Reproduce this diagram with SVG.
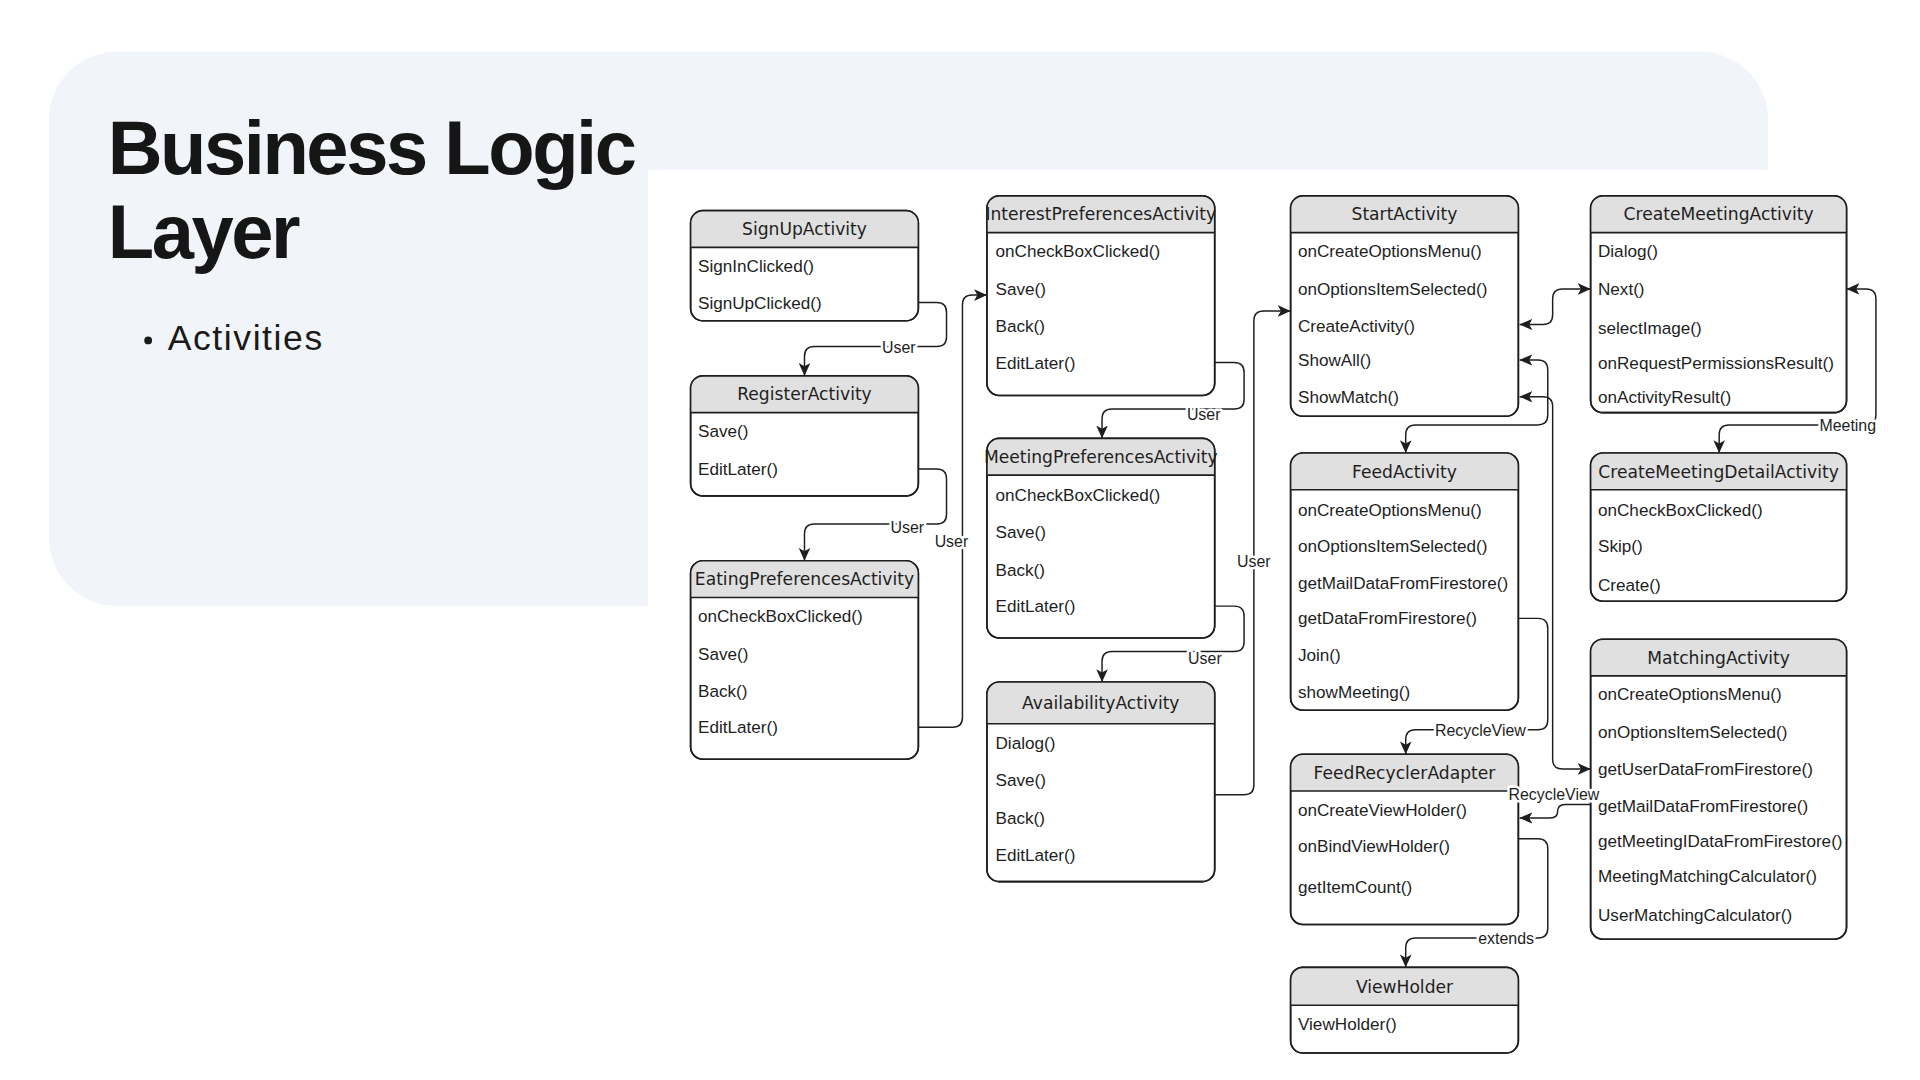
<svg xmlns="http://www.w3.org/2000/svg" width="1920" height="1080" viewBox="0 0 1920 1080">
<defs>
<style>
.bg{fill:#ffffff}
.panel{fill:#F1F5F9}
.h1{font-family:"Liberation Sans",Arial,sans-serif;font-weight:700;font-size:62px;letter-spacing:-2px;fill:#161616}
.bul{font-family:"Liberation Sans",Arial,sans-serif;font-size:29px;letter-spacing:1.3px;fill:#1a1a1a}
.box{fill:#ffffff;stroke:#1e1e1e;stroke-width:1.3}
.frame{fill:none;stroke:#1e1e1e;stroke-width:1.3}
.hdr{fill:#E0E0E0;stroke:none}
.div{stroke:#1e1e1e;stroke-width:1.3}
.t{font-family:"DejaVu Sans",Verdana,sans-serif;font-size:14px;fill:#1e1e1e;text-anchor:middle}
.m{font-family:"Liberation Sans",Arial,sans-serif;font-size:14px;fill:#1e1e1e}
.c{fill:none;stroke:#1e1e1e;stroke-width:1.2}
.lbl{font-family:"Liberation Sans",Arial,sans-serif;font-size:13px;fill:#1e1e1e;text-anchor:middle;stroke:#ffffff;stroke-width:4px;stroke-linejoin:round;paint-order:stroke}
</style>
<marker id="arr" viewBox="0 0 10 10" refX="10" refY="5" markerWidth="10.5" markerHeight="10.5" orient="auto-start-reverse" markerUnits="userSpaceOnUse">
<path d="M0,0.5 L10,5 L0,9.5 L2.5,5 Z" fill="#1e1e1e"/>
</marker>
</defs>
<rect class="bg" x="0" y="0" width="1920" height="1080"/>
<g transform="scale(1.2244898)">
<g id="background">
<rect class="panel" x="40" y="42" width="1404" height="453" rx="56" ry="56"/>
<rect class="bg" x="529" y="139" width="1039" height="743"/>
</g>
<g id="title">
<text class="h1" x="88" y="142">Business Logic</text>
<text class="h1" x="88" y="211">Layer</text>
<circle cx="121" cy="278" r="3.2" fill="#1a1a1a"/>
<text class="bul" x="137" y="286">Activities</text>
</g>

<g id="SignUpActivity">
<rect class="box" x="564" y="172" width="186" height="90" rx="10"/>
<path class="hdr" d="M564,202 V182 A10,10 0 0 1 574,172 H740 A10,10 0 0 1 750,182 V202 Z"/>
<line class="div" x1="564" y1="202" x2="750" y2="202"/>
<rect class="frame" x="564" y="172" width="186" height="90" rx="10"/>
<text class="t" x="657" y="192">SignUpActivity</text>
<text class="m" x="570" y="222">SignInClicked()</text>
<text class="m" x="570" y="252">SignUpClicked()</text>
</g>

<g id="RegisterActivity">
<rect class="box" x="564" y="307" width="186" height="98" rx="10"/>
<path class="hdr" d="M564,337 V317 A10,10 0 0 1 574,307 H740 A10,10 0 0 1 750,317 V337 Z"/>
<line class="div" x1="564" y1="337" x2="750" y2="337"/>
<rect class="frame" x="564" y="307" width="186" height="98" rx="10"/>
<text class="t" x="657" y="327">RegisterActivity</text>
<text class="m" x="570" y="357">Save()</text>
<text class="m" x="570" y="388">EditLater()</text>
</g>

<g id="EatingPreferencesActivity">
<rect class="box" x="564" y="458" width="186" height="162" rx="10"/>
<path class="hdr" d="M564,488 V468 A10,10 0 0 1 574,458 H740 A10,10 0 0 1 750,468 V488 Z"/>
<line class="div" x1="564" y1="488" x2="750" y2="488"/>
<rect class="frame" x="564" y="458" width="186" height="162" rx="10"/>
<text class="t" x="657" y="478">EatingPreferencesActivity</text>
<text class="m" x="570" y="508">onCheckBoxClicked()</text>
<text class="m" x="570" y="539">Save()</text>
<text class="m" x="570" y="569">Back()</text>
<text class="m" x="570" y="599">EditLater()</text>
</g>

<g id="InterestPreferencesActivity">
<rect class="box" x="806" y="160" width="186" height="163" rx="10"/>
<path class="hdr" d="M806,190 V170 A10,10 0 0 1 816,160 H982 A10,10 0 0 1 992,170 V190 Z"/>
<line class="div" x1="806" y1="190" x2="992" y2="190"/>
<rect class="frame" x="806" y="160" width="186" height="163" rx="10"/>
<text class="t" x="899" y="180">InterestPreferencesActivity</text>
<text class="m" x="813" y="210">onCheckBoxClicked()</text>
<text class="m" x="813" y="241">Save()</text>
<text class="m" x="813" y="271">Back()</text>
<text class="m" x="813" y="301">EditLater()</text>
</g>

<g id="MeetingPreferencesActivity">
<rect class="box" x="806" y="358" width="186" height="163" rx="10"/>
<path class="hdr" d="M806,388 V368 A10,10 0 0 1 816,358 H982 A10,10 0 0 1 992,368 V388 Z"/>
<line class="div" x1="806" y1="388" x2="992" y2="388"/>
<rect class="frame" x="806" y="358" width="186" height="163" rx="10"/>
<text class="t" x="899" y="378">MeetingPreferencesActivity</text>
<text class="m" x="813" y="409">onCheckBoxClicked()</text>
<text class="m" x="813" y="439">Save()</text>
<text class="m" x="813" y="470">Back()</text>
<text class="m" x="813" y="500">EditLater()</text>
</g>

<g id="AvailabilityActivity">
<rect class="box" x="806" y="557" width="186" height="163" rx="10"/>
<path class="hdr" d="M806,591 V567 A10,10 0 0 1 816,557 H982 A10,10 0 0 1 992,567 V591 Z"/>
<line class="div" x1="806" y1="591" x2="992" y2="591"/>
<rect class="frame" x="806" y="557" width="186" height="163" rx="10"/>
<text class="t" x="899" y="579">AvailabilityActivity</text>
<text class="m" x="813" y="612">Dialog()</text>
<text class="m" x="813" y="642">Save()</text>
<text class="m" x="813" y="673">Back()</text>
<text class="m" x="813" y="703">EditLater()</text>
</g>

<g id="StartActivity">
<rect class="box" x="1054" y="160" width="186" height="180" rx="10"/>
<path class="hdr" d="M1054,190 V170 A10,10 0 0 1 1064,160 H1230 A10,10 0 0 1 1240,170 V190 Z"/>
<line class="div" x1="1054" y1="190" x2="1240" y2="190"/>
<rect class="frame" x="1054" y="160" width="186" height="180" rx="10"/>
<text class="t" x="1147" y="180">StartActivity</text>
<text class="m" x="1060" y="210">onCreateOptionsMenu()</text>
<text class="m" x="1060" y="241">onOptionsItemSelected()</text>
<text class="m" x="1060" y="271">CreateActivity()</text>
<text class="m" x="1060" y="299">ShowAll()</text>
<text class="m" x="1060" y="329">ShowMatch()</text>
</g>

<g id="FeedActivity">
<rect class="box" x="1054" y="370" width="186" height="210" rx="10"/>
<path class="hdr" d="M1054,400 V380 A10,10 0 0 1 1064,370 H1230 A10,10 0 0 1 1240,380 V400 Z"/>
<line class="div" x1="1054" y1="400" x2="1240" y2="400"/>
<rect class="frame" x="1054" y="370" width="186" height="210" rx="10"/>
<text class="t" x="1147" y="390">FeedActivity</text>
<text class="m" x="1060" y="421">onCreateOptionsMenu()</text>
<text class="m" x="1060" y="451">onOptionsItemSelected()</text>
<text class="m" x="1060" y="481">getMailDataFromFirestore()</text>
<text class="m" x="1060" y="510">getDataFromFirestore()</text>
<text class="m" x="1060" y="540">Join()</text>
<text class="m" x="1060" y="570">showMeeting()</text>
</g>

<g id="FeedRecyclerAdapter">
<rect class="box" x="1054" y="616" width="186" height="139" rx="10"/>
<path class="hdr" d="M1054,646 V626 A10,10 0 0 1 1064,616 H1230 A10,10 0 0 1 1240,626 V646 Z"/>
<line class="div" x1="1054" y1="646" x2="1240" y2="646"/>
<rect class="frame" x="1054" y="616" width="186" height="139" rx="10"/>
<text class="t" x="1147" y="636">FeedRecyclerAdapter</text>
<text class="m" x="1060" y="666">onCreateViewHolder()</text>
<text class="m" x="1060" y="696">onBindViewHolder()</text>
<text class="m" x="1060" y="729">getItemCount()</text>
</g>

<g id="ViewHolder">
<rect class="box" x="1054" y="790" width="186" height="70" rx="10"/>
<path class="hdr" d="M1054,821 V800 A10,10 0 0 1 1064,790 H1230 A10,10 0 0 1 1240,800 V821 Z"/>
<line class="div" x1="1054" y1="821" x2="1240" y2="821"/>
<rect class="frame" x="1054" y="790" width="186" height="70" rx="10"/>
<text class="t" x="1147" y="811">ViewHolder</text>
<text class="m" x="1060" y="841">ViewHolder()</text>
</g>

<g id="CreateMeetingActivity">
<rect class="box" x="1299" y="160" width="209" height="177" rx="10"/>
<path class="hdr" d="M1299,190 V170 A10,10 0 0 1 1309,160 H1498 A10,10 0 0 1 1508,170 V190 Z"/>
<line class="div" x1="1299" y1="190" x2="1508" y2="190"/>
<rect class="frame" x="1299" y="160" width="209" height="177" rx="10"/>
<text class="t" x="1403.5" y="180">CreateMeetingActivity</text>
<text class="m" x="1305" y="210">Dialog()</text>
<text class="m" x="1305" y="241">Next()</text>
<text class="m" x="1305" y="273">selectImage()</text>
<text class="m" x="1305" y="301">onRequestPermissionsResult()</text>
<text class="m" x="1305" y="329">onActivityResult()</text>
</g>

<g id="CreateMeetingDetailActivity">
<rect class="box" x="1299" y="370" width="209" height="121" rx="10"/>
<path class="hdr" d="M1299,400 V380 A10,10 0 0 1 1309,370 H1498 A10,10 0 0 1 1508,380 V400 Z"/>
<line class="div" x1="1299" y1="400" x2="1508" y2="400"/>
<rect class="frame" x="1299" y="370" width="209" height="121" rx="10"/>
<text class="t" x="1403.5" y="390">CreateMeetingDetailActivity</text>
<text class="m" x="1305" y="421">onCheckBoxClicked()</text>
<text class="m" x="1305" y="451">Skip()</text>
<text class="m" x="1305" y="483">Create()</text>
</g>

<g id="MatchingActivity">
<rect class="box" x="1299" y="522" width="209" height="245" rx="10"/>
<path class="hdr" d="M1299,552 V532 A10,10 0 0 1 1309,522 H1498 A10,10 0 0 1 1508,532 V552 Z"/>
<line class="div" x1="1299" y1="552" x2="1508" y2="552"/>
<rect class="frame" x="1299" y="522" width="209" height="245" rx="10"/>
<text class="t" x="1403.5" y="542">MatchingActivity</text>
<text class="m" x="1305" y="572">onCreateOptionsMenu()</text>
<text class="m" x="1305" y="603">onOptionsItemSelected()</text>
<text class="m" x="1305" y="633">getUserDataFromFirestore()</text>
<text class="m" x="1305" y="663">getMailDataFromFirestore()</text>
<text class="m" x="1305" y="692">getMeetingIDataFromFirestore()</text>
<text class="m" x="1305" y="720">MeetingMatchingCalculator()</text>
<text class="m" x="1305" y="752">UserMatchingCalculator()</text>
</g>

<g id="connectors">
<path class="c" marker-end="url(#arr)" d="M750,247 H765 Q773,247 773,255 V275 Q773,283 765,283 H665 Q657,283 657,291 V307"/>
<path class="c" marker-end="url(#arr)" d="M750,383 H765 Q773,383 773,391 V420 Q773,428 765,428 H665 Q657,428 657,436 V458"/>
<path class="c" marker-end="url(#arr)" d="M750,594 H778 Q786,594 786,586 V249 Q786,241 794,241 H806"/>
<path class="c" marker-end="url(#arr)" d="M992,296 H1008 Q1016,296 1016,304 V326 Q1016,334 1008,334 H908 Q900,334 900,342 V358"/>
<path class="c" marker-end="url(#arr)" d="M992,495 H1008 Q1016,495 1016,503 V524 Q1016,532 1008,532 H908 Q900,532 900,540 V557"/>
<path class="c" marker-end="url(#arr)" d="M992,649 H1016 Q1024,649 1024,641 V262 Q1024,254 1032,254 H1054"/>
<path class="c" marker-start="url(#arr)" marker-end="url(#arr)" d="M1241,265 H1260 Q1268,265 1268,257 V244 Q1268,236 1276,236 H1299"/>
<path class="c" marker-start="url(#arr)" marker-end="url(#arr)" d="M1241,294 H1256 Q1264,294 1264,302 V339 Q1264,347 1256,347 H1156 Q1148,347 1148,355 V370"/>
<path class="c" marker-start="url(#arr)" marker-end="url(#arr)" d="M1241,324 H1260 Q1268,324 1268,332 V620 Q1268,628 1276,628 H1299"/>
<path class="c" marker-end="url(#arr)" d="M1240,505 H1256 Q1264,505 1264,513 V588 Q1264,596 1256,596 H1156 Q1148,596 1148,604 V616"/>
<path class="c" marker-end="url(#arr)" d="M1299,657 H1278 Q1272,657 1272,663 Q1272,668 1266,668 H1241"/>
<path class="c" marker-start="url(#arr)" marker-end="url(#arr)" d="M1508,236 H1524 Q1532,236 1532,244 V339 Q1532,347 1524,347 H1412 Q1404,347 1404,355 V370"/>
<path class="c" marker-end="url(#arr)" d="M1240,685 H1256 Q1264,685 1264,693 V758 Q1264,766 1256,766 H1156 Q1148,766 1148,774 V790"/>
<text class="lbl" x="734" y="288">User</text>
<text class="lbl" x="741" y="435">User</text>
<text class="lbl" x="777" y="447">User</text>
<text class="lbl" x="983" y="343">User</text>
<text class="lbl" x="984" y="542">User</text>
<text class="lbl" x="1024" y="463">User</text>
<text class="lbl" x="1209" y="601">RecycleView</text>
<text class="lbl" x="1269" y="653">RecycleView</text>
<text class="lbl" x="1509" y="352">Meeting</text>
<text class="lbl" x="1230" y="771">extends</text>
</g>
</g>
</svg>
